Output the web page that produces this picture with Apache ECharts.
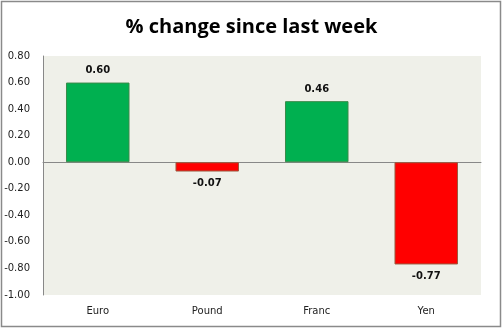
<!DOCTYPE html>
<html><head><meta charset="utf-8">
<script src="https://cdn.jsdelivr.net/npm/echarts@6/dist/echarts.min.js"></script>
<style>html,body{margin:0;padding:0;background:#fff}#c{width:503px;height:329px}</style>
</head><body><div id="c"></div>
<script>
const categories = ["Euro", "Pound", "Franc", "Yen"];
const values = [0.60, -0.07, 0.46, -0.77];
const title = "% change since last week";

const chart = echarts.init(document.getElementById('c'), null, {renderer: 'canvas'});
chart.setOption({
  animation: false,
  backgroundColor: '#ffffff',
  title: {
    text: title, left: 'center', top: 12,
    textStyle: {fontFamily: 'Open Sans', fontWeight: 'bold', fontSize: 20, color: '#000'}
  },
  graphic: [{
    type: 'rect', shape: {x: 1.5, y: 1.5, width: 499, height: 325},
    style: {fill: 'none', stroke: '#8a8a8a', lineWidth: 1.5}, silent: true, z: 100
  }],
  grid: {left: 43, right: 22, top: 56, bottom: 34, show: true, backgroundColor: '#eff0e9', borderWidth: 0},
  xAxis: {
    type: 'category', data: categories,
    axisLine: {show: true, onZero: true, lineStyle: {color: '#888', width: 1}},
    axisTick: {show: false},
    axisLabel: {fontFamily: 'DejaVu Sans', fontSize: 10, color: '#222', margin: 11},
    position: 'bottom'
  },
  yAxis: {
    type: 'value', min: -1, max: 0.8, interval: 0.2,
    axisLine: {show: true, lineStyle: {color: '#888'}},
    axisTick: {show: false},
    splitLine: {show: false},
    axisLabel: {fontFamily: 'DejaVu Sans', fontSize: 10, color: '#222', margin: 13,
      formatter: v => v.toFixed(2)}
  },
  series: [{
    type: 'bar', barWidth: '58%',
    data: values.map(v => ({
      value: v,
      itemStyle: v >= 0 ? {color: '#00b050', borderColor: '#3a8a4a', borderWidth: 1}
                        : {color: '#ff0000', borderColor: '#9a5a40', borderWidth: 1},
      label: {position: v >= 0 ? 'top' : 'bottom'}
    })),
    label: {show: true, distance: 7, fontFamily: 'DejaVu Sans', fontWeight: 'bold', fontSize: 10, color: '#111',
      formatter: p => p.value.toFixed(2)}
  }]
});
</script></body></html>
